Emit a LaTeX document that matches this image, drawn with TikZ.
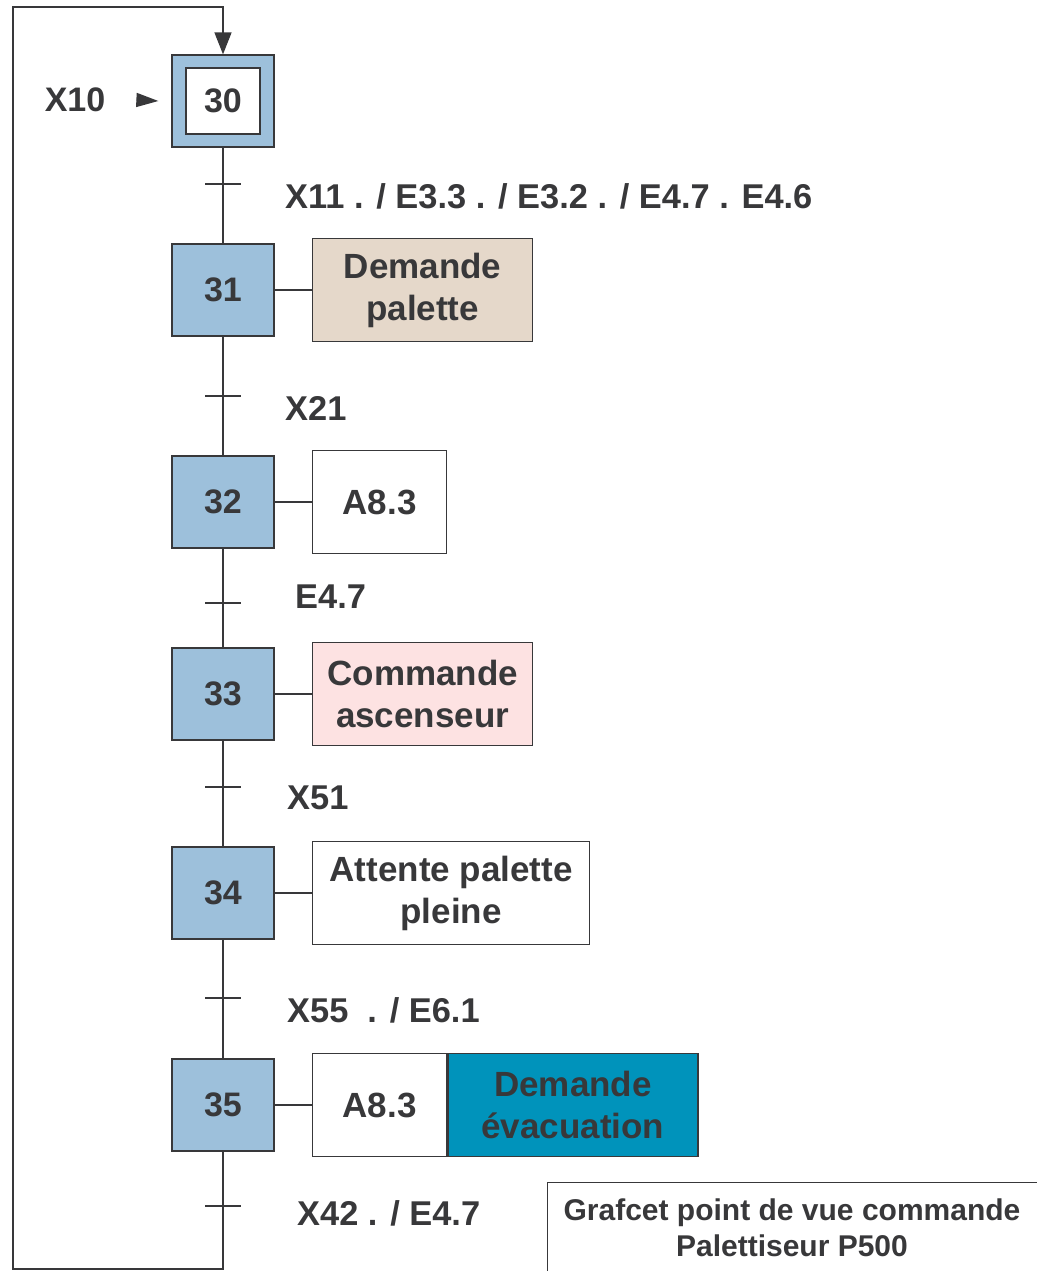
\documentclass[tikz,border=0pt]{standalone}
\usepackage{fontspec}
\setmainfont{Liberation Sans}
\usepackage{xcolor}
\usepackage{tikz}
\usetikzlibrary{arrows.meta, positioning}

\definecolor{stepblue}{HTML}{9DC0DB}
\definecolor{beige}{HTML}{E5D8CA}
\definecolor{rosepale}{HTML}{FDE2E2}
\definecolor{teal}{HTML}{0093BB}
\definecolor{ink}{HTML}{38383A}

\tikzset{
  stepbox/.style={draw=ink, fill=stepblue, line width=1.3pt, minimum width=102pt, minimum height=92pt, inner sep=0pt},
  actbox/.style={draw=ink, line width=1.3pt, minimum height=103pt, inner sep=0pt, align=center,
    font=\fontsize{35}{42}\selectfont\bfseries},
  cond/.style={anchor=west, inner sep=0pt, font=\fontsize{34.4}{42}\selectfont\bfseries},
  link/.style={draw=ink, line width=1.5pt}
}

\begin{document}
\begin{tikzpicture}[
    x=1pt, y=-1pt,
    every node/.style={text=ink, font=\fontsize{34}{42}\selectfont\bfseries}
  ]
  \useasboundingbox (0,0) rectangle (1036,1271);

  % etapes
  \node[stepbox] (s30) at (223,101) {};
  \node[draw=ink, fill=white, line width=1.3pt, minimum width=74pt, minimum height=66pt] (s30i) at (s30) {30};
  \node[stepbox] (s31) at (223,290) {31};
  \node[stepbox] (s32) at (223,502) {32};
  \node[stepbox] (s33) at (223,694) {33};
  \node[stepbox] (s34) at (223,893) {34};
  \node[stepbox] (s35) at (223,1105) {35};

  % actions
  \node[actbox, fill=beige, minimum width=220pt, anchor=west] (a31) at (312,290) {Demande\\palette};
  \node[actbox, minimum width=134pt, anchor=west] (a32) at (312,502) {A8.3};
  \node[actbox, fill=rosepale, minimum width=220pt, anchor=west] (a33) at (312,694) {Commande\\ascenseur};
  \node[actbox, minimum width=277pt, anchor=west] (a34) at (312,893) {Attente palette\\pleine};
  \node[actbox, minimum width=134pt, anchor=west] (a35) at (312,1105) {A8.3};
  \node[actbox, fill=teal, minimum width=250pt, anchor=west] (a35b) at (a35.east) {Demande\\évacuation};

  \foreach \s in {31,32,33,34,35}
    \draw[link] (s\s) -- (a\s);

  % transitions
  \coordinate (t1) at (223,184);
  \coordinate (t2) at (223,396);
  \coordinate (t3) at (223,603);
  \coordinate (t4) at (223,787);
  \coordinate (t5) at (223,998);
  \coordinate (t6) at (223,1206);
  \foreach \t in {t1,t2,t3,t4,t5,t6}
    \draw[link] ([xshift=-18pt]\t) -- ([xshift=18pt]\t);

  \node[cond] (c1) at (285,196) {X11 . / E3.3 . / E3.2 . / E4.7 . E4.6};
  \node[cond] (c2) at (285,408) {X21};
  \node[cond] (c3) at (295,597) {E4.7};
  \node[cond] (c4) at (287,798) {X51};
  \node[cond] (c5) at (287,1010) {X55\ \ . / E6.1};
  \node[cond] (c6) at (297,1213) {X42 . / E4.7};

  % liaisons
  \draw[link] (s30) -- (s31);
  \draw[link] (s31) -- (s32);
  \draw[link] (s32) -- (s33);
  \draw[link] (s33) -- (s34);
  \draw[link] (s34) -- (s35);

  % retour
  \coordinate (bas) at (223,1269);
  \coordinate (gbas) at (13,1269);
  \coordinate (ghaut) at (13,7);
  \coordinate (haut) at (223,7);
  \draw[link, -{Triangle[width=17pt,length=22pt]}] (s35) -- (bas) -- (gbas) -- (ghaut) -- (haut) -- (s30);

  % X10
  \node (x10) at (75,100) {X10};
  \draw[link, -{Triangle[width=14pt,length=22pt]}] ([xshift=28pt]x10.east) -- ([xshift=-13pt]s30.west);

  % cartouche
  \node[draw=ink, line width=1.3pt, minimum width=500pt, minimum height=100pt, anchor=north west, inner sep=0pt] (titre) at (547,1182) {};
  \node[font=\fontsize{30}{36}\selectfont\bfseries, align=center] (txt) at (792,1228) {Grafcet point de vue commande\\Palettiseur P500};
\end{tikzpicture}
\end{document}
